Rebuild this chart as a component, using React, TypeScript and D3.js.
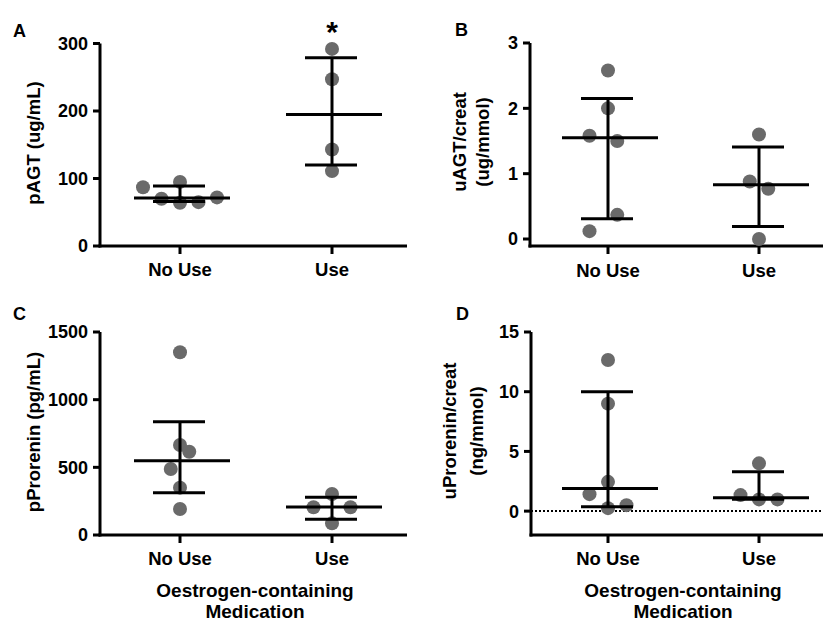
import React from "react";
import * as d3 from "d3";

const categories = ["No Use", "Use"];

// Panel A: pAGT (ug/mL)
const aNoUse = [87, 95, 70, 64, 65, 72];
const aUse = [292, 247, 143, 111];
const aStats = [
  { center: 71, upper: 89, lower: 66 },
  { center: 195, upper: 279, lower: 120 },
];
const aTicks = [0, 100, 200, 300];

// Panel B: uAGT/creat (ug/mmol)
const bNoUse = [2.58, 2.0, 1.58, 1.5, 0.37, 0.12];
const bUse = [1.6, 0.88, 0.77, 0.0];
const bStats = [
  { center: 1.55, upper: 2.15, lower: 0.31 },
  { center: 0.83, upper: 1.41, lower: 0.19 },
];
const bTicks = [0, 1, 2, 3];

// Panel C: pProrenin (pg/mL)
const cNoUse = [1350, 665, 615, 488, 350, 192];
const cUse = [303, 205, 205, 86];
const cStats = [
  { center: 549, upper: 837, lower: 313 },
  { center: 207, upper: 279, lower: 116 },
];
const cTicks = [0, 500, 1000, 1500];

// Panel D: uProrenin/creat (ng/mmol)
const dNoUse = [12.65, 9.0, 2.45, 1.42, 0.25, 0.5];
const dUse = [4.0, 1.34, 0.98, 0.98];
const dStats = [
  { center: 1.9, upper: 10.0, lower: 0.36 },
  { center: 1.12, upper: 3.3, lower: 1.0 },
];
const dTicks = [0, 5, 10, 15];

// horizontal swarm column of each dot (layout only)
const aCols = [[-2, 0, -1, 0, 1, 2], [0, 0, 0, 0]];
const bCols = [[0, 0, -1, 0.5, 0.5, -1], [0, -0.5, 0.5, 0]];
const cCols = [[0, 0, 0.5, -0.5, 0, 0], [0, -1, 1, 0]];
const dCols = [[0, 0, 0, -1, 0, 1], [0, -1, 0, 1]];

const DOT = "#6a6a6a";
const FONT = "'Liberation Sans', Arial, sans-serif";

type Stat = { center: number; upper: number; lower: number };

function Panel(props: {
  letter: string;
  letterX: number;
  letterY: number;
  axisX: number;
  axisEnd: number;
  domain: [number, number];
  range: [number, number];
  ticks: number[];
  catRange: [number, number];
  groups: number[][];
  cols: number[][];
  stats: Stat[];
  yTitle: string[];
  yTitleX: number[];
  yTitleY: number;
  catLabelY: number;
  xTitle?: boolean;
  xTitleX?: number;
  zeroLine?: boolean;
  star?: boolean;
}) {
  const y = d3.scaleLinear().domain(props.domain).range(props.range);
  const x = d3.scalePoint<string>().domain(categories).range(props.catRange);
  const base = props.range[0];
  const top = y(props.ticks[props.ticks.length - 1]);
  const step = 18.5;
  return (
    <g fontFamily={FONT} fontWeight="bold">
      <text x={props.letterX} y={props.letterY} fontSize={18}>
        {props.letter}
      </text>
      {props.zeroLine && (
        <line
          x1={props.axisX}
          x2={props.axisEnd}
          y1={y(0)}
          y2={y(0)}
          stroke="#000"
          strokeWidth={2}
          strokeDasharray="2,2"
        />
      )}
      {/* y axis */}
      <line x1={props.axisX} x2={props.axisX} y1={top} y2={base + 1.5} stroke="#000" strokeWidth={3} />
      {props.ticks.map((t) => (
        <g key={t}>
          <line x1={props.axisX - 7} x2={props.axisX} y1={y(t)} y2={y(t)} stroke="#000" strokeWidth={3} />
          <text x={props.axisX - 12} y={y(t)} dy="0.36em" textAnchor="end" fontSize={18}>
            {t}
          </text>
        </g>
      ))}
      {/* x axis */}
      <line x1={props.axisX - 1.5} x2={props.axisEnd} y1={base} y2={base} stroke="#000" strokeWidth={3} />
      {categories.map((c) => (
        <g key={c}>
          <line x1={x(c)} x2={x(c)} y1={base} y2={base + 8} stroke="#000" strokeWidth={3} />
          <text x={x(c)} y={props.catLabelY} textAnchor="middle" fontSize={18.5}>
            {c}
          </text>
        </g>
      ))}
      {/* dots */}
      {props.groups.map((g, gi) =>
        g.map((v, i) => (
          <circle
            key={gi + "-" + i}
            cx={(x(categories[gi]) as number) + props.cols[gi][i] * step}
            cy={y(v)}
            r={7}
            fill={DOT}
          />
        ))
      )}
      {/* error bars */}
      {props.stats.map((s, gi) => {
        const cx = x(categories[gi]) as number;
        return (
          <g key={gi} stroke="#000" strokeWidth={3}>
            <line x1={cx} x2={cx} y1={y(s.upper)} y2={y(s.lower)} />
            <line x1={cx - 46} x2={cx + 50} y1={y(s.center)} y2={y(s.center)} />
            <line x1={cx - 27} x2={cx + 25} y1={y(s.upper)} y2={y(s.upper)} />
            <line x1={cx - 27} x2={cx + 25} y1={y(s.lower)} y2={y(s.lower)} />
          </g>
        );
      })}
      {props.star && (
        <text x={x("Use")} y={42} textAnchor="middle" fontSize={30}>
          *
        </text>
      )}
      {/* y title */}
      {props.yTitle.map((t, i) => (
        <text
          key={i}
          transform={`translate(${props.yTitleX[i]},${props.yTitleY}) rotate(-90)`}
          textAnchor="middle"
          dy="0.36em"
          fontSize={18.5}
        >
          {t}
        </text>
      ))}
      {props.xTitle && (
        <g fontSize={19}>
          <text x={props.xTitleX} y={597} textAnchor="middle">
            Oestrogen-containing
          </text>
          <text x={props.xTitleX} y={618} textAnchor="middle">
            Medication
          </text>
        </g>
      )}
    </g>
  );
}

export default function App() {
  return (
    <div style={{ position: "absolute", left: 0, top: 0 }}>
      <svg width={823} height={622} style={{ display: "block", background: "#fff" }}>
        <Panel
          letter="A"
          letterX={13}
          letterY={37}
          axisX={100}
          axisEnd={407}
          domain={[0, 300]}
          range={[246, 43.5]}
          ticks={aTicks}
          catRange={[180, 332]}
          groups={[aNoUse, aUse]}
          cols={aCols}
          stats={aStats}
          yTitle={["pAGT (ug/mL)"]}
          yTitleX={[33]}
          yTitleY={143}
          catLabelY={276}
          star
        />
        <Panel
          letter="B"
          letterX={455}
          letterY={36}
          axisX={530}
          axisEnd={823}
          domain={[-0.107, 3]}
          range={[246, 43]}
          ticks={bTicks}
          catRange={[608, 759]}
          groups={[bNoUse, bUse]}
          cols={bCols}
          stats={bStats}
          yTitle={["uAGT/creat", "(ug/mmol)"]}
          yTitleX={[459, 482]}
          yTitleY={142}
          catLabelY={277}
        />
        <Panel
          letter="C"
          letterX={13}
          letterY={320}
          axisX={100}
          axisEnd={407}
          domain={[0, 1500]}
          range={[535, 332]}
          ticks={cTicks}
          catRange={[180, 332]}
          groups={[cNoUse, cUse]}
          cols={cCols}
          stats={cStats}
          yTitle={["pProrenin (pg/mL)"]}
          yTitleX={[33]}
          yTitleY={432}
          catLabelY={565}
          xTitle
          xTitleX={255}
        />
        <Panel
          letter="D"
          letterX={456}
          letterY={320}
          axisX={531}
          axisEnd={823}
          domain={[-2, 15]}
          range={[535, 332]}
          ticks={dTicks}
          catRange={[608, 759]}
          groups={[dNoUse, dUse]}
          cols={dCols}
          stats={dStats}
          yTitle={["uProrenin/creat", "(ng/mmol)"]}
          yTitleX={[449, 476]}
          yTitleY={431}
          catLabelY={565}
          xTitle
          xTitleX={683}
          zeroLine
        />
      </svg>
    </div>
  );
}
